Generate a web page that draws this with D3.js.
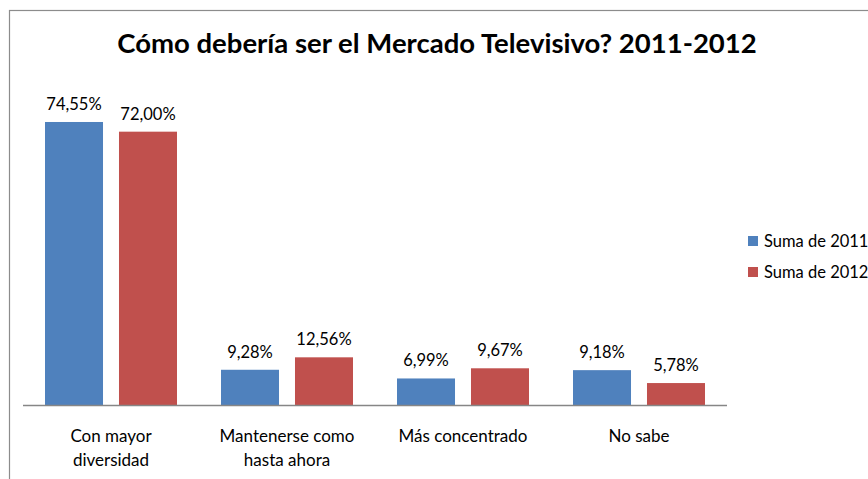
<!DOCTYPE html>
<html>
<head>
<meta charset="utf-8">
<script src="https://cdn.jsdelivr.net/npm/d3@7"></script>
<style>
  body { margin: 0; background: #fff; }
  svg { display: block; font-family: Lato, "Open Sans", sans-serif; }
</style>
</head>
<body>
<svg width="868" height="479"></svg>
<script>
'use strict';
(() => {

var categories = [['Con mayor', 'diversidad'], ['Mantenerse como', 'hasta ahora'], ['Más concentrado'], ['No sabe']];
var seriesNames = ['Suma de 2011', 'Suma de 2012'];
var values2011 = [74.55, 9.28, 6.99, 9.18];
var values2012 = [72.00, 12.56, 9.67, 5.78];
var colors = ['#4F81BD', '#C0504D'];

var svg = d3.select('svg');
var W = +svg.attr('width'), H = +svg.attr('height');

// chart frame (clipped on the right and bottom)
svg.append('rect')
  .attr('x', 9.5).attr('y', 10.5)
  .attr('width', W + 10).attr('height', H + 10)
  .attr('fill', '#fff').attr('stroke', '#8c8c8c').attr('stroke-width', 1.2);

svg.append('text')
  .attr('x', 437).attr('y', 53)
  .attr('text-anchor', 'middle')
  .attr('font-size', 27.5).attr('font-weight', 'bold')
  .attr('fill', '#000')
  .text('Cómo debería ser el Mercado Televisivo? 2011-2012');

var keys = categories.map((c, i) => i);
var x0 = d3.scaleBand().domain(keys).range([23, 727]);
var x1 = d3.scaleBand().domain([0, 1]).range([22, 154]).paddingInner(0.216);
var y = d3.scaleLinear().domain([0, 80]).range([405, 101.3]);

var rows = keys.map(i => ({ i: i, vals: [values2011[i], values2012[i]] }));

var g = svg.selectAll('g.cat').data(rows).enter().append('g')
  .attr('class', 'cat')
  .attr('transform', d => `translate(${x0(d.i)},0)`);

var bars = g.selectAll('g.bar').data(d => d.vals.map((v, s) => ({ v: v, s: s })))
  .enter().append('g').attr('class', 'bar');

bars.append('rect')
  .attr('x', d => x1(d.s))
  .attr('y', d => y(d.v))
  .attr('width', x1.bandwidth())
  .attr('height', d => y(0) - y(d.v))
  .attr('fill', d => colors[d.s]);

bars.append('text')
  .attr('x', d => x1(d.s) + x1.bandwidth() / 2)
  .attr('y', d => y(d.v) - 12)
  .attr('text-anchor', 'middle')
  .attr('font-size', 16.5)
  .attr('fill', '#000')
  .text(d => d.v.toFixed(2).replace('.', ',') + '%');

// x axis line
svg.append('line')
  .attr('x1', 23).attr('x2', 727)
  .attr('y1', 405.5).attr('y2', 405.5)
  .attr('stroke', '#868686').attr('stroke-width', 1.5);

// category labels
g.append('text')
  .attr('text-anchor', 'middle')
  .attr('font-size', 17)
  .attr('fill', '#000')
  .selectAll('tspan').data(d => categories[d.i]).enter().append('tspan')
  .attr('x', x0.bandwidth() / 2)
  .attr('y', (d, j) => 442 + j * 24)
  .text(d => d);

// legend
var leg = svg.selectAll('g.leg').data(seriesNames).enter().append('g')
  .attr('class', 'leg')
  .attr('transform', (d, i) => `translate(748,${236 + i * 31})`);
leg.append('rect').attr('width', 10).attr('height', 10).attr('fill', (d, i) => colors[i]);
leg.append('text')
  .attr('x', 16).attr('y', 11)
  .attr('font-size', 16.5)
  .attr('fill', '#000')
  .text(d => d);

})();
</script>
</body>
</html>
